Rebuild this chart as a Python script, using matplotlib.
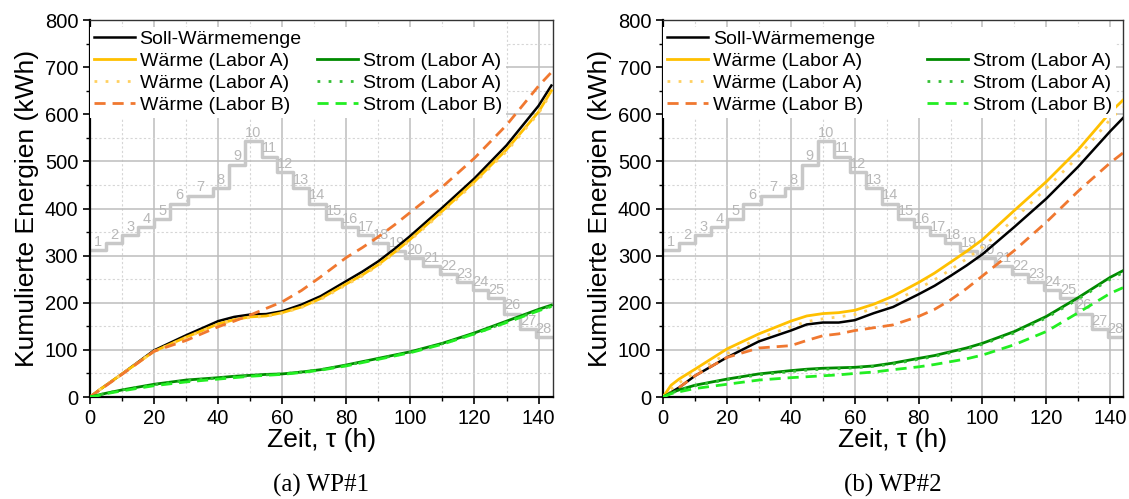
import matplotlib
matplotlib.use("Agg")
import matplotlib.pyplot as plt
from matplotlib.lines import Line2D
from matplotlib.ticker import MultipleLocator

plt.rcParams['font.family'] = ['Liberation Sans', 'DejaVu Sans']

# time axis (h)
t = [0, 2.5, 5, 10, 20, 30, 40, 45, 50, 55, 60, 66, 72, 80, 85, 90, 95, 100, 110, 120, 130, 140, 144]

# WP#1 cumulated energies (kWh)
soll_1 = [0, 13, 25, 49, 99, 131, 161, 170, 175, 176, 182, 196, 214, 246, 266, 288, 314, 342, 402, 464, 534, 618, 661]
waerme_a_1 = [0, 13, 25, 49, 97, 127, 155, 164, 170, 172, 179, 191, 209, 240, 259, 281, 307, 335, 395, 457, 525, 605, 650]
waerme_a_dot_1 = [0, 13, 25, 49, 97, 126, 154, 163, 169, 171, 178, 190, 207, 238, 257, 279, 305, 333, 392, 454, 521, 602, 646]
waerme_b_1 = [0, 12, 24, 48, 97, 120, 149, 161, 174, 188, 202, 226, 255, 296, 317, 340, 365, 392, 446, 507, 577, 660, 689]
strom_a_1 = [0, 4, 8, 15, 27, 36, 41, 44, 46, 48, 49, 53, 58, 68, 75, 82, 89, 96, 114, 136, 161, 186, 195]
strom_a_dot_1 = [0, 4, 8, 15, 26, 35, 40, 43, 45, 47, 49, 53, 58, 67, 74, 81, 88, 95, 113, 134, 159, 184, 193]
strom_b_1 = [0, 3, 7, 13, 24, 32, 38, 41, 44, 46, 48, 52, 57, 66, 73, 80, 87, 94, 112, 134, 158, 183, 192]

# WP#2 cumulated energies (kWh)
soll_2 = [0, 10, 20, 45, 84, 118, 141, 154, 158, 158, 163, 178, 191, 218, 236, 257, 279, 303, 361, 421, 489, 564, 592]
waerme_a_2 = [0, 25, 38, 59, 102, 134, 161, 172, 177, 179, 184, 197, 214, 243, 263, 286, 309, 334, 396, 457, 525, 604, 630]
waerme_a_dot_2 = [0, 17, 30, 52, 92, 125, 149, 160, 166, 170, 175, 188, 202, 230, 249, 270, 293, 318, 378, 443, 510, 589, 615]
waerme_b_2 = [0, 10, 20, 45, 84, 104, 109, 120, 130, 134, 141, 147, 153, 171, 186, 206, 230, 257, 311, 371, 437, 497, 518]
strom_a_2 = [0, 9, 15, 25, 38, 49, 56, 59, 61, 62, 63, 66, 72, 82, 88, 96, 104, 114, 139, 171, 211, 254, 268]
strom_a_dot_2 = [0, 8, 14, 24, 37, 47, 54, 57, 59, 60, 62, 65, 70, 80, 86, 94, 102, 112, 136, 168, 208, 250, 264]
strom_b_2 = [0, 7, 11, 18, 27, 36, 41, 43, 45, 47, 50, 53, 58, 64, 69, 75, 81, 89, 111, 139, 179, 220, 232]

# test sequence steps 1..28 (start time in h, level on the kWh axis)
step_start = [0, 5, 10.1, 15.1, 20.1, 25, 30.7, 38.3, 43.4, 48.4, 53.6, 58.5, 63.5, 68.4,
              73.6, 78.6, 83.6, 88.4, 93.1, 98.3, 104, 109.2, 114.4, 119.4, 124.3, 129.2, 134.2, 139.2]
step_end = 144.1
step_level = [311, 327, 343, 360, 377, 410, 427, 443, 493, 543, 510, 477, 443, 410,
              377, 360, 343, 327, 310, 294, 277, 260, 244, 227, 210, 177, 144, 127]

labels = ["Soll-Wärmemenge", "Wärme (Labor A)", "Wärme (Labor A)", "Wärme (Labor B)",
          "Strom (Labor A)", "Strom (Labor A)", "Strom (Labor B)"]
captions = ["(a) WP#1", "(b) WP#2"]

fig = plt.figure(figsize=(11.29, 4.99), dpi=100)
ax1 = fig.add_axes([0.0797, 0.2044, 0.4101, 0.7555])
ax2 = fig.add_axes([0.5873, 0.2044, 0.4074, 0.7555])

datasets = [
    (ax1, [soll_1, waerme_a_1, waerme_a_dot_1, waerme_b_1, strom_a_1, strom_a_dot_1, strom_b_1], 144.5, 0.8),
    (ax2, [soll_2, waerme_a_2, waerme_a_dot_2, waerme_b_2, strom_a_2, strom_a_dot_2, strom_b_2], 144.0, 2.7),
]

styles = [
    dict(color='black', lw=1.8, ls='-'),
    dict(color='#FFC000', lw=2.0, ls='-'),
    dict(color='#FFD060', lw=2.0, ls=(0, (1, 3))),
    dict(color='#F07830', lw=2.0, ls=(0, (4, 2.5))),
    dict(color='#008A00', lw=2.0, ls='-'),
    dict(color='#33C033', lw=2.0, ls=(0, (1, 3))),
    dict(color='#22EE22', lw=2.0, ls=(0, (4, 2.5))),
]

for (ax, series, xmax, colspace), cap in zip(datasets, captions):
    # step profile in the background
    edges = step_start + [step_end]
    ax.step(edges, step_level + [step_level[-1]], where='post', color='#c8c8c8', lw=2.5, zorder=2)
    for i, (x0, lev) in enumerate(zip(step_start, step_level)):
        x1 = edges[i + 1]
        ax.annotate(str(i + 1), xy=((x0 + x1) / 2, lev), xytext=(0, 1), textcoords='offset points',
                    ha='center', va='bottom', fontsize=10.5, color='#b8b8b8', zorder=2,
                    annotation_clip=False, clip_on=True)

    handles = []
    for y, st in zip(series, styles):
        h, = ax.plot(t, y, zorder=3, **st)
        handles.append(h)

    ax.set_xlim(0, xmax)
    ax.set_ylim(0, 800)
    ax.xaxis.set_major_locator(MultipleLocator(20))
    ax.xaxis.set_minor_locator(MultipleLocator(10))
    ax.yaxis.set_major_locator(MultipleLocator(100))
    ax.yaxis.set_minor_locator(MultipleLocator(50))
    ax.grid(which='major', color='#bdbdbd', lw=1.1, zorder=0)
    ax.grid(which='minor', color='#d6d6d6', lw=0.8, ls=(0, (2, 2)), zorder=0)
    ax.set_axisbelow(True)
    ax.tick_params(which='major', direction='out', length=5, width=1.2, labelsize=14.5)
    ax.tick_params(which='minor', direction='out', length=3, width=1.0)
    for side in ['left', 'bottom']:
        ax.spines[side].set_linewidth(1.6)
    for side in ['top', 'right']:
        ax.spines[side].set_linewidth(1.0)
        ax.spines[side].set_color('#333333')

    ax.set_xlabel("Zeit, τ (h)", fontsize=19, labelpad=0)
    ax.set_ylabel("Kumulierte Energien (kWh)", fontsize=19, labelpad=4)

    blank = Line2D([], [], color='none')
    leg_handles = handles[:4] + [blank] + handles[4:]
    leg_labels = labels[:4] + [''] + labels[4:]
    leg = ax.legend(leg_handles, leg_labels, ncol=2, loc='upper left', bbox_to_anchor=(0, 0.982),
                    fontsize=14, frameon=True, framealpha=1, edgecolor='none', fancybox=False,
                    handlelength=2.1, handletextpad=0.25, columnspacing=colspace,
                    labelspacing=0.22, borderpad=0.2, borderaxespad=0.0)
    leg.set_zorder(5)

    pos = ax.get_position()
    fig.text(pos.x0 + pos.width / 2, 0.004, cap, ha='center', va='bottom',
             fontsize=18, family='Liberation Serif')

fig.savefig("out.png", dpi=100)
